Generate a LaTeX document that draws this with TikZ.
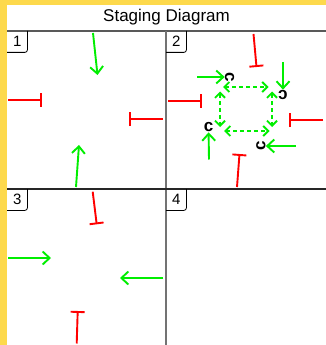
\documentclass[tikz,border=0pt]{standalone}
\usepackage{fontspec}
\setmainfont{Liberation Sans}
\usetikzlibrary{arrows.meta,positioning}

\definecolor{frameyellow}{HTML}{FDD94C}
\definecolor{actorgreen}{HTML}{00EE00}
\definecolor{propred}{HTML}{FF0000}

\begin{document}
\begin{tikzpicture}[x=1pt,y=-1pt,
      numbox/.style={draw=none, inner sep=0pt, minimum width=20pt, minimum height=21pt, anchor=north west, font=\fontsize{15}{15}\selectfont},
      actor/.style={inner sep=0pt, font=\bfseries\fontsize{17}{17}\selectfont},
      walk/.style={draw=actorgreen, line width=1.9pt, -{Straight Barb[length=7pt,width=13pt]}},
      prop/.style={draw=propred, line width=1.9pt, -{Bar[width=14pt,line width=1.9pt]}},
      swap/.style={draw=actorgreen, line width=1.9pt, dash pattern=on 4pt off 3pt, {Straight Barb[length=5pt,width=10pt]}-{Straight Barb[length=5pt,width=10pt]}}
   ]
      \useasboundingbox (0,0) rectangle (326,345);
      \fill[frameyellow] (0,0) rectangle (326,345);
      \fill[white] (7,5) rectangle (326,345);

      \node[font=\fontsize{17}{17}\selectfont] (title) at (166.5,17) {Staging Diagram};

      % panel grid
      \draw[line width=1.3pt, black!65] (7,31) -- (326,31);
      \draw[line width=1.3pt, black!55] (166,31) -- (166,345);
      \draw[line width=1.3pt, black!85] (7,189) -- (326,189);

      % panel numbers
      \node[numbox] (P1) at (7,31) {1};
      \node[numbox] (P2) at (166,31) {2};
      \node[numbox] (P3) at (7,189) {3};
      \node[numbox] (P4) at (166,189) {4};
      \foreach \p in {P1,P2,P3,P4}
         \draw[line width=0.8pt, rounded corners=2.5pt] (\p.north east) |- (\p.south west);

      % panel 1
      \coordinate (A1s) at (93,33);    \coordinate (A1e) at (97.5,75);
      \coordinate (A2s) at (76,187);   \coordinate (A2e) at (79,145);
      \coordinate (B1s) at (8,100);    \coordinate (B1e) at (42,100);
      \coordinate (B2s) at (163,119);  \coordinate (B2e) at (129,119);
      \path (A1s) edge[walk] (A1e)
            (A2s) edge[walk] (A2e)
            (B1s) edge[prop] (B1e)
            (B2s) edge[prop] (B2e);

      % panel 2
      \node[actor, rotate=-90] (C1) at (229.5,77) {c};
      \node[actor, rotate=180] (C2) at (283,94.5) {c};
      \node[actor] (C3) at (208.5,127.5) {c};
      \node[actor, rotate=90] (C4) at (261,146) {c};
      \coordinate (D1s) at (197,77);
      \coordinate (D2s) at (283,62);
      \coordinate (D3s) at (209,159.5);
      \coordinate (D4s) at (296,146);
      \path (D1s) edge[walk] (C1)
            (D2s) edge[walk] (C2)
            (D3s) edge[walk] (C3)
            (D4s) edge[walk] (C4);
      \coordinate (E1s) at (253.5,34);   \coordinate (E1e) at (256.5,67);
      \coordinate (E2s) at (168,101);    \coordinate (E2e) at (202.3,101);
      \coordinate (E3s) at (323,120);    \coordinate (E3e) at (289.3,120);
      \coordinate (E4s) at (237,187);    \coordinate (E4e) at (239.5,154);
      \path (E1s) edge[prop] (E1e)
            (E2s) edge[prop] (E2e)
            (E3s) edge[prop] (E3e)
            (E4s) edge[prop] (E4e);
      \coordinate (S1) at (223,87);    \coordinate (S2) at (268.5,87);
      \coordinate (S3) at (220,91.5);  \coordinate (S4) at (220,127);
      \coordinate (S5) at (272,91.5);  \coordinate (S6) at (272,127);
      \coordinate (S7) at (224,131);   \coordinate (S8) at (269.5,131);
      \path (S1) edge[swap] (S2)
            (S3) edge[swap] (S4)
            (S5) edge[swap] (S6)
            (S7) edge[swap] (S8);

      % panel 3
      \coordinate (F1s) at (8,258);     \coordinate (F1e) at (51,258);
      \coordinate (F2s) at (163.3,278); \coordinate (F2e) at (120,278);
      \coordinate (G1s) at (92.7,191.7);  \coordinate (G1e) at (96.7,224.3);
      \coordinate (G2s) at (76.7,343.5);  \coordinate (G2e) at (77.7,311);
      \path (F1s) edge[walk] (F1e)
            (F2s) edge[walk] (F2e)
            (G1s) edge[prop] (G1e)
            (G2s) edge[prop] (G2e);
   \end{tikzpicture}
\end{document}
